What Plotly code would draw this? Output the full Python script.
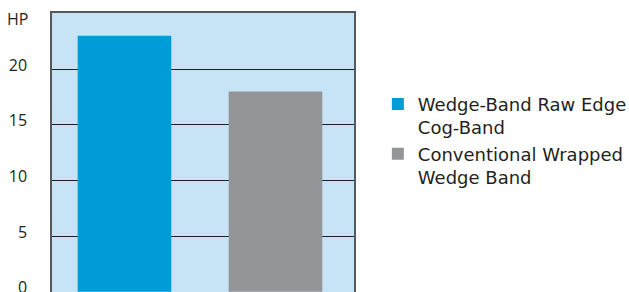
import plotly.graph_objects as go

categories = ["Wedge-Band Raw Edge<br>Cog-Band", "Conventional Wrapped<br>Wedge Band"]
hp_values = [23, 18]
colors = ["#009bd9", "#939598"]
tick_vals = [0, 5, 10, 15, 20]

fig = go.Figure()
for i, (name, v, c) in enumerate(zip(categories, hp_values, colors)):
    fig.add_trace(go.Bar(x=[i], y=[v], name=name, marker=dict(color=c, line=dict(width=0)),
                         width=0.62, showlegend=True))

fig.update_layout(
    width=629, height=292,
    margin=dict(l=52, r=275, t=13, b=0, autoexpand=False),
    paper_bgcolor="white",
    plot_bgcolor="#c6e4f5",
    font=dict(family="Open Sans", size=16, color="#231f20"),
    xaxis=dict(range=[-0.48, 1.52], showticklabels=False, showgrid=False, zeroline=False,
               showline=True, linecolor="#58595b", linewidth=1.5, mirror=True, ticks="",
               automargin=False),
    yaxis=dict(range=[-0.02, 25.05], tickvals=tick_vals, showgrid=True, gridcolor="#231f20",
               gridwidth=1, zeroline=False, showline=True, linecolor="#58595b", linewidth=1.5,
               mirror=True, ticks="", ticklabelstandoff=20, automargin=False,
               ticklabeloverflow="allow", ticklabelshift=-4,
               tickfont=dict(family="Open Sans", size=16)),
    legend=dict(x=1.079, y=0.739, xanchor="left", yanchor="top", valign="top",
                font=dict(family="DejaVu Sans", size=18, color="#231f20"),
                bgcolor="rgba(0,0,0,0)", tracegroupgap=0, itemclick=False),
    showlegend=True,
)
fig.add_annotation(text="HP", xref="paper", yref="paper", x=-0.115, y=0.977,
                   xanchor="center", yanchor="middle", showarrow=False,
                   font=dict(family="Open Sans", size=16, color="#231f20"))
fig.write_html("out.html", config={"displayModeBar": False},
               post_script="document.body.style.margin='0';")
